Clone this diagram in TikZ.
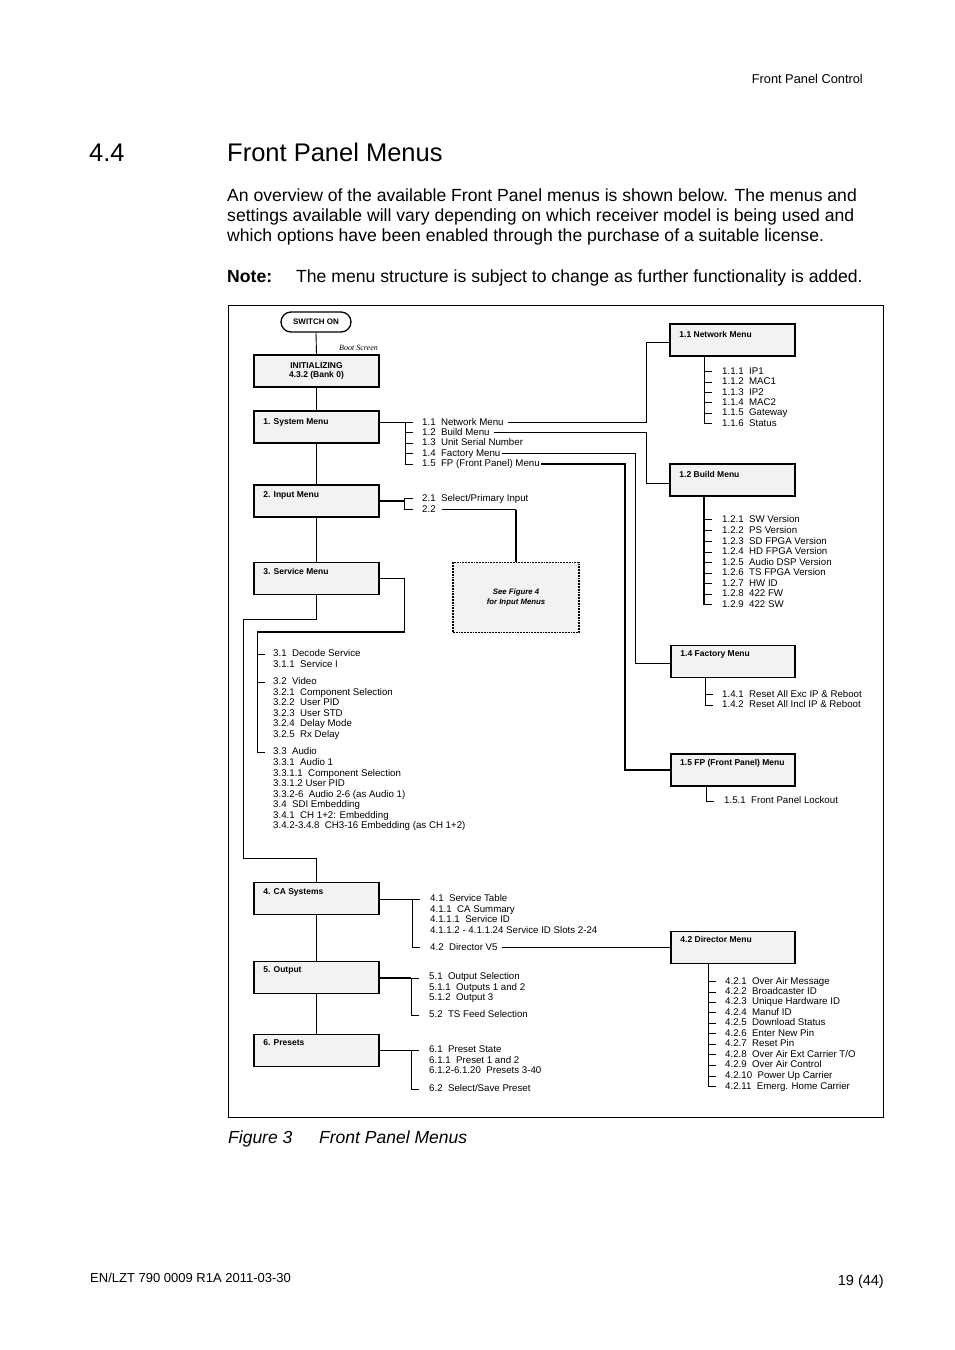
\documentclass[tikz,border=0pt]{standalone}
\usepackage{fontspec}
\setmainfont{Liberation Sans}
\newfontfamily\serifit{Liberation Serif}
\usetikzlibrary{calc}
\definecolor{boxgray}{HTML}{F2F2F2}
\tikzset{
 menubox/.style={draw, line width=1.5pt, fill=boxgray, minimum width=125pt, minimum height=32pt, inner sep=0pt},
 boxlbl/.style={font=\fontsize{8.5}{10}\selectfont\bfseries, inner sep=0pt, anchor=mid west, yshift=-1.5pt},
 item/.style={font=\fontsize{9.7}{11}\selectfont, inner sep=0pt, anchor=mid west, yshift=-1pt},
 conn/.style={line width=0.9pt},
 heavy/.style={line width=2pt},
 pagetext/.style={inner sep=0pt, anchor=base west},
}
\begin{document}
\begin{tikzpicture}[x=1pt,y=-1pt]
\useasboundingbox (0,0) rectangle (954,1350);
\fill[white] (0,0) rectangle (954,1350);

% ---------- page text ----------
\node[inner sep=0pt, anchor=mid east, font=\fontsize{12.8}{15}\selectfont] (hdr) at (863,81) {Front Panel Control};
\node[pagetext, font=\fontsize{25.5}{30}\selectfont] (secno) at (89,161) {4.4};
\node[pagetext, font=\fontsize{25.5}{30}\selectfont] (sectitle) at (227,161) {Front Panel Menus};
\node[pagetext, font=\fontsize{17.6}{20}\selectfont] (bodyA) at (227,201.5) {An overview of the available Front Panel menus is shown below. The menus and};
\node[pagetext, font=\fontsize{17.6}{20}\selectfont] (bodyB) at (227,221.5) {settings available will vary depending on which receiver model is being used and};
\node[pagetext, font=\fontsize{17.6}{20}\selectfont] (bodyC) at (227,241.5) {which options have been enabled through the purchase of a suitable license.};
\node[pagetext, font=\fontsize{17.6}{20}\selectfont\bfseries] (noteL) at (227,282) {Note:};
\node[pagetext, font=\fontsize{17.6}{20}\selectfont] (noteT) at (296,282) {The menu structure is subject to change as further functionality is added.};
\node[pagetext, font=\fontsize{17.5}{20}\selectfont\itshape] (figno) at (228,1143) {Figure 3};
\node[pagetext, font=\fontsize{17.5}{20}\selectfont\itshape] (figtitle) at (319,1143) {Front Panel Menus};
\node[pagetext, font=\fontsize{13}{15}\selectfont] (docno) at (90,1282) {EN/LZT 790 0009 R1A 2011-03-30};
\node[inner sep=0pt, anchor=base east, font=\fontsize{14.5}{17}\selectfont] (pageno) at (884,1285) {19 (44)};

% ---------- frame ----------
\draw[line width=0.8pt] (228,305) rectangle (883,1117);

% ---------- main column ----------
\node[draw, line width=1.3pt, rounded corners=10pt, fill=white, minimum width=70pt, minimum height=20pt, inner sep=0pt, font=\fontsize{8}{9}\selectfont\bfseries] (sw) at (316,322) {SWITCH ON};
\node[inner sep=0pt, anchor=mid east, font=\serifit\itshape\fontsize{8}{9}\selectfont] (boot) at (378,348) {Boot Screen};
\node[menubox, align=center, font=\fontsize{8.5}{9.5}\selectfont\bfseries] (init) at (316.5,371) {INITIALIZING\\4.3.2 (Bank 0)};
\node[menubox] (sys) at (316.5,427) {};
\node[boxlbl] (sysL) at ($(sys.north west)+(10,10)$) {1. System Menu};
\node[menubox] (inp) at (316.5,501) {};
\node[boxlbl] (inpL) at ($(inp.north west)+(10,9)$) {2. Input Menu};
\node[menubox] (svc) at (316.5,578.5) {};
\node[boxlbl] (svcL) at ($(svc.north west)+(10,9)$) {3. Service Menu};
\node[menubox] (ca) at (316.5,898.5) {};
\node[boxlbl] (caL) at ($(ca.north west)+(10,9)$) {4. CA Systems};
\node[menubox] (out) at (316.5,977.5) {};
\node[boxlbl] (outL) at ($(out.north west)+(10,8)$) {5. Output};
\node[menubox] (pre) at (316.5,1050.5) {};
\node[boxlbl] (preL) at ($(pre.north west)+(10,8)$) {6. Presets};

\draw[conn] (sw.south) -- (init.north);
\draw[conn] (init.south) -- (sys.north);
\draw[conn] (sys.south) -- (inp.north);
\draw[conn] (inp.south) -- (svc.north);
\coordinate (t1) at (243,619);
\coordinate (t2) at (243,858);
\draw[conn] (svc.south) |- (t1) -- (t2) -| (ca.north);
\draw[conn] (ca.south) -- (out.north);
\draw[conn] (out.south) -- (pre.north);

% ---------- right column boxes ----------
\node[menubox] (net) at (732.5,340) {};
\node[boxlbl] (netL) at ($(net.north west)+(10,10)$) {1.1 Network Menu};
\node[menubox] (bld) at (732.5,480) {};
\node[boxlbl] (bldL) at ($(bld.north west)+(10,10)$) {1.2 Build Menu};
\node[menubox, minimum width=124pt] (fac) at (733,661.5) {};
\node[boxlbl] (facL) at ($(fac.north west)+(10,8)$) {1.4 Factory Menu};
\node[menubox, minimum width=124pt, line width=2pt] (fpm) at (733,769.5) {};
\node[boxlbl] (fpmL) at ($(fpm.north west)+(10,9)$) {1.5 FP (Front Panel) Menu};
\node[menubox, minimum width=124pt] (dir) at (733,947.5) {};
\node[boxlbl] (dirL) at ($(dir.north west)+(10,8)$) {4.2 Director Menu};
\node[draw, densely dotted, line width=1.8pt, fill=boxgray, minimum width=126pt, minimum height=70pt, inner sep=0pt, align=center, font=\fontsize{7.8}{10}\selectfont\bfseries\itshape] (fig) at (516,597.5) {See Figure 4\\for Input Menus};

% ---------- 1. System items ----------
\node[item] (i11) at (422,421.5) {1.1\ \ Network Menu};
\node[item] (i12) at (422,431.5) {1.2\ \ Build Menu};
\node[item] (i13) at (422,442) {1.3\ \ Unit Serial Number};
\node[item] (i14) at (422,452.5) {1.4\ \ Factory Menu};
\node[item] (i15) at (422,463) {1.5\ \ FP (Front Panel) Menu};
\draw[conn] (sys.east |- i11.mid west) -- ([xshift=-17]i11.mid west) -- ([xshift=-17]i15.mid west) -- ([xshift=-9]i15.mid west);
\foreach \n in {i11,i12,i13,i14} \draw[conn] ([xshift=-17]\n.mid west) -- ([xshift=-9]\n.mid west);
\draw[conn] ([xshift=4]i11.mid east) -| ([xshift=-23,yshift=-2]net.west) -- ([yshift=-2]net.west);
\draw[conn] ([xshift=4]i12.mid east) -| ([xshift=-23,yshift=-3]bld.west) -- ([yshift=-3]bld.west);
\draw[conn] ([xshift=1]i14.mid east) -| ([xshift=-35,yshift=-1.5]fac.west) -- ([yshift=-1.5]fac.west);
\draw[heavy] ([xshift=1]i15.mid east) -| ([xshift=-45]fpm.west) -- (fpm.west);

% ---------- 2. Input items ----------
\node[item] (i21) at (422,497.5) {2.1\ \ Select/Primary Input};
\node[item] (i22) at (422,508.5) {2.2};
\coordinate (ib) at ($(i21.mid west)+(-18,0)$);
\draw[heavy] (inp.east) -- (inp.east -| ib);
\draw[conn] (ib) -- ([xshift=-9]i21.mid west);
\draw[conn] (ib) |- ([xshift=-9]i22.mid west);
\draw[conn] ([xshift=6]i22.mid east) -- (i22.mid east -| fig.north);
\draw[heavy] (i22.mid east -| fig.north) -- (fig.north);

% ---------- 3. Service items ----------
\node[item] (i31) at (273,653) {3.1\ \ Decode Service};
\node[item] (i311) at (273,663.5) {3.1.1\ \ Service I};
\node[item] (i32) at (273,681) {3.2\ \ Video};
\node[item] (i321) at (273,691.5) {3.2.1\ \ Component Selection};
\node[item] (i322) at (273,702) {3.2.2\ \ User PID};
\node[item] (i323) at (273,712.5) {3.2.3\ \ User STD};
\node[item] (i324) at (273,723) {3.2.4\ \ Delay Mode};
\node[item] (i325) at (273,733.5) {3.2.5\ \ Rx Delay};
\node[item] (i33) at (273,751) {3.3\ \ Audio};
\node[item] (i331) at (273,762) {3.3.1\ \ Audio 1};
\node[item] (i3311) at (273,772.5) {3.3.1.1\ \ Component Selection};
\node[item] (i3312) at (273,783) {3.3.1.2 User PID};
\node[item] (i332) at (273,793.5) {3.3.2-6\ \ Audio 2-6 (as Audio 1)};
\node[item] (i34) at (273,804) {3.4\ \ SDI Embedding};
\node[item] (i341) at (273,814.5) {3.4.1\ \ CH 1+2: Embedding};
\node[item] (i342) at (273,825) {3.4.2-3.4.8\ \ CH3-16 Embedding (as CH 1+2)};
\coordinate (sb) at ($(i31.mid west)+(-16,-22)$);
\coordinate (sc) at ($(svc.east)+(25,0)$);
\draw[conn] (svc.east) -- (sc) -- (sc |- sb);
\draw[line width=1.5pt] (sc |- sb) -- (sb);
\draw[conn] (sb) |- ([xshift=-8]i33.mid west);
\draw[conn] (sb |- i31.mid west) -- ([xshift=-8]i31.mid west);
\draw[conn] (sb |- i32.mid west) -- ([xshift=-8]i32.mid west);

% ---------- 4. CA items ----------
\node[item] (i41) at (430,898) {4.1\ \ Service Table};
\node[item] (i411) at (430,908.5) {4.1.1\ \ CA Summary};
\node[item] (i4111) at (430,919) {4.1.1.1\ \ Service ID};
\node[item] (i4112) at (430,929.5) {4.1.1.2 - 4.1.1.24 Service ID Slots 2-24};
\node[item] (i42) at (430,946.5) {4.2\ \ Director V5};
\coordinate (cb) at ($(i41.mid west)+(-18,0)$);
\draw[conn] (ca.east |- cb) -- (cb) -- ([xshift=-10]i41.mid west);
\draw[conn] (cb) |- ([xshift=-10]i42.mid west);
\draw[conn] ([xshift=4]i42.mid east) -- (i42.mid east -| dir.west);

% ---------- 5. Output items ----------
\node[item] (i51) at (429,976) {5.1\ \ Output Selection};
\node[item] (i511) at (429,986.5) {5.1.1\ \ Outputs 1 and 2};
\node[item] (i512) at (429,997) {5.1.2\ \ Output 3};
\node[item] (i52) at (429,1014) {5.2\ \ TS Feed Selection};
\coordinate (ob) at ($(i51.mid west)+(-18,1)$);
\draw[heavy] (out.east |- ob) -- (ob);
\draw[conn] (ob) -- ([xshift=-10,yshift=-1]i51.mid west);
\draw[conn] (ob) |- ([xshift=-10]i52.mid west);

% ---------- 6. Presets items ----------
\node[item] (i61) at (429,1049) {6.1\ \ Preset State};
\node[item] (i611) at (429,1059.5) {6.1.1\ \ Preset 1 and 2};
\node[item] (i612) at (429,1070) {6.1.2-6.1.20\ \ Presets 3-40};
\node[item] (i62) at (429,1088) {6.2\ \ Select/Save Preset};
\coordinate (pb) at ($(i61.mid west)+(-18,0)$);
\draw[conn] (pre.east |- pb) -- (pb) -- ([xshift=-10]i61.mid west);
\draw[conn] (pb) |- ([xshift=-10]i62.mid west);

% ---------- 1.1 Network items ----------
\node[item] (i111) at (722,370.5) {1.1.1\ \ IP1};
\node[item] (i112) at (722,381) {1.1.2\ \ MAC1};
\node[item] (i113) at (722,391.5) {1.1.3\ \ IP2};
\node[item] (i114) at (722,401.5) {1.1.4\ \ MAC2};
\node[item] (i115) at (722,412) {1.1.5\ \ Gateway};
\node[item] (i116) at (722,422.5) {1.1.6\ \ Status};
\coordinate (nb) at ($(i111.mid west)+(-18,0)$);
\draw[conn] (nb |- net.south) -- (nb |- i116.mid west) -- ([xshift=-10]i116.mid west);
\foreach \n in {i111,i112,i113,i114,i115} \draw[conn] (nb |- \n.mid west) -- ([xshift=-10]\n.mid west);

% ---------- 1.2 Build items ----------
\node[item] (i121) at (722,518.5) {1.2.1\ \ SW Version};
\node[item] (i122) at (722,529.5) {1.2.2\ \ PS Version};
\node[item] (i123) at (722,540.5) {1.2.3\ \ SD FPGA Version};
\node[item] (i124) at (722,551) {1.2.4\ \ HD FPGA Version};
\node[item] (i125) at (722,561.5) {1.2.5\ \ Audio DSP Version};
\node[item] (i126) at (722,572) {1.2.6\ \ TS FPGA Version};
\node[item] (i127) at (722,582.5) {1.2.7\ \ HW ID};
\node[item] (i128) at (722,593) {1.2.8\ \ 422 FW};
\node[item] (i129) at (722,603.5) {1.2.9\ \ 422 SW};
\coordinate (bb) at ($(i121.mid west)+(-18,0)$);
\draw[heavy] (bb |- bld.south) -- (bb |- i129.mid west);
\foreach \n in {i121,i122,i123,i124,i125,i126,i127,i128,i129} \draw[conn] (bb |- \n.mid west) -- ([xshift=-10]\n.mid west);

% ---------- 1.4 Factory items ----------
\node[item] (i141) at (722,693.5) {1.4.1\ \ Reset All Exc IP \& Reboot};
\node[item] (i142) at (722,704) {1.4.2\ \ Reset All Incl IP \& Reboot};
\coordinate (fb) at ($(i141.mid west)+(-17,0)$);
\draw[conn] (fb |- fac.south) -- (fb |- i142.mid west) -- ([xshift=-9]i142.mid west);
\draw[conn] (fb |- i141.mid west) -- ([xshift=-9]i141.mid west);

% ---------- 1.5 FP items ----------
\node[item] (i151) at (724,800) {1.5.1\ \ Front Panel Lockout};
\coordinate (pfb) at ($(i151.mid west)+(-18,0)$);
\draw[conn] (pfb |- fpm.south) -- (pfb |- i151.mid west) -- ([xshift=-10]i151.mid west);

% ---------- 4.2 Director items ----------
\node[item] (i421) at (725,980.5) {4.2.1\ \ Over Air Message};
\node[item] (i422) at (725,991) {4.2.2\ \ Broadcaster ID};
\node[item] (i423) at (725,1001) {4.2.3\ \ Unique Hardware ID};
\node[item] (i424) at (725,1011.5) {4.2.4\ \ Manuf ID};
\node[item] (i425) at (725,1022) {4.2.5\ \ Download Status};
\node[item] (i426) at (725,1032.5) {4.2.6\ \ Enter New Pin};
\node[item] (i427) at (725,1043) {4.2.7\ \ Reset Pin};
\node[item] (i428) at (725,1053.5) {4.2.8\ \ Over Air Ext Carrier T/O};
\node[item] (i429) at (725,1064) {4.2.9\ \ Over Air Control};
\node[item] (i4210) at (725,1075) {4.2.10\ \ Power Up Carrier};
\node[item] (i4211) at (725,1085.5) {4.2.11\ \ Emerg. Home Carrier};
\coordinate (db) at ($(i421.mid west)+(-17,0)$);
\draw[conn] (db |- dir.south) -- (db |- i4211.mid west) -- ([xshift=-9]i4211.mid west);
\foreach \n in {i421,i422,i423,i424,i425,i426,i427,i428,i429,i4210} \draw[conn] (db |- \n.mid west) -- ([xshift=-9]\n.mid west);
\end{tikzpicture}
\end{document}
